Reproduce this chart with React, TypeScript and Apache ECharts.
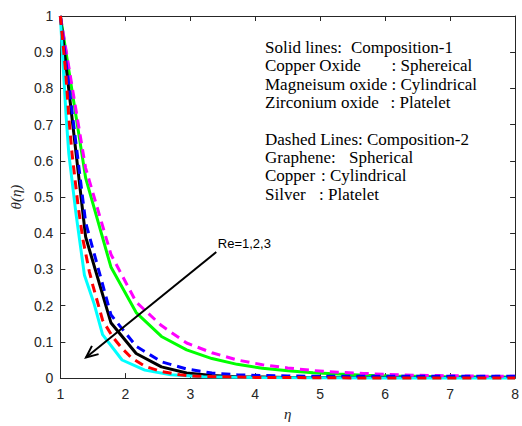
import React, { useEffect, useRef } from "react";
import * as echarts from "echarts";

// eta grid used by the coarse solutions
const eta = [1, 1.389, 1.778, 2.167, 2.556, 2.944, 3.333, 3.722, 4.111, 4.5, 4.889, 5.278, 5.667, 6.056, 6.444, 6.833, 7.222, 7.611, 8];
// Composition-1 (solid)
const greenSolid = [1, 0.553, 0.307, 0.181, 0.115, 0.078, 0.054, 0.038, 0.027, 0.02, 0.015, 0.011, 0.008, 0.006, 0.005, 0.004, 0.004, 0.003, 0.003];
const blackSolid = [1, 0.39, 0.153, 0.068, 0.031, 0.014, 0.007, 0.004, 0.003, 0.002, 0.002, 0.002, 0.002, 0.002, 0.002, 0.002, 0.002, 0.002, 0.002];
const cyanEta = [1, 1.05, 1.09, 1.13, 1.24, 1.37, 1.52, 1.65, 1.95, 2.3, 2.7, 3.2, 4, 5, 6, 7, 8];
const cyanSolid = [1, 0.84, 0.72, 0.62, 0.455, 0.285, 0.205, 0.12, 0.05, 0.022, 0.009, 0.004, 0.002, 0.001, 0, 0, 0];
// Composition-2 (dashed)
const magentaDashed = [1, 0.58, 0.342, 0.21, 0.145, 0.097, 0.07, 0.05, 0.037, 0.028, 0.021, 0.016, 0.013, 0.01, 0.008, 0.007, 0.006, 0.005, 0.005];
const blueDashed = [1, 0.43, 0.175, 0.088, 0.045, 0.025, 0.014, 0.009, 0.007, 0.006, 0.005, 0.005, 0.005, 0.005, 0.005, 0.005, 0.005, 0.005, 0.005];
const redEta = [1, 1.08, 1.13, 1.18, 1.27, 1.345, 1.445, 1.5, 1.65, 1.8, 1.95, 2.1, 2.31, 2.56, 2.84, 3.1, 4, 5, 6, 7, 8];
const redDashed = [1, 0.85, 0.72, 0.62, 0.48, 0.385, 0.295, 0.256, 0.16, 0.115, 0.082, 0.055, 0.032, 0.018, 0.009, 0.005, 0.002, 0.001, 0, 0, 0];

const xTicks = { min: 1, max: 8, interval: 1 };
const yTicks = { min: 0, max: 1, interval: 0.1 };

// annotation arrow (data coordinates)
const arrowFrom = [3.4, 0.348];
const arrowTo = [1.395, 0.057];

const legendLines: { y: number; parts: { x: number; t: string }[] }[] = [
  { y: 0, parts: [{ x: 265, t: "Solid lines:" }, { x: 351, t: "Composition-1" }] },
  { y: 1, parts: [{ x: 265, t: "Copper Oxide" }, { x: 391.5, t: ": Sphereical" }] },
  { y: 2, parts: [{ x: 265, t: "Magneisum oxide : Cylindrical" }] },
  { y: 3, parts: [{ x: 265, t: "Zirconium oxide" }, { x: 390.5, t: ": Platelet" }] },
  { y: 5, parts: [{ x: 265, t: "Dashed Lines: Composition-2" }] },
  { y: 6, parts: [{ x: 265, t: "Graphene:" }, { x: 349, t: "Spherical" }] },
  { y: 7, parts: [{ x: 265, t: "Copper" }, { x: 321, t: ": Cylindrical" }] },
  { y: 8, parts: [{ x: 265, t: "Silver" }, { x: 319, t: ": Platelet" }] },
];

const pair = (xs: number[], ys: number[]) => xs.map((x, i) => [x, ys[i]]);

export default function App() {
  const ref = useRef<HTMLDivElement>(null);
  useEffect(() => {
    if (!ref.current) return;
    const chart = echarts.init(ref.current, undefined, { renderer: "svg" });
    const axisColor = "#262626";
    const labelFont = { fontFamily: "Liberation Sans", fontSize: 14, color: axisColor };
    const mkX = (pos: "bottom" | "top") => ({
      type: "value" as const,
      position: pos,
      ...xTicks,
      axisLine: { show: true, onZero: false, lineStyle: { color: axisColor, width: 1 } },
      axisTick: { show: true, inside: true, length: 5, lineStyle: { color: axisColor } },
      axisLabel: pos === "bottom" ? { ...labelFont, margin: 9 } : { show: false },
      splitLine: { show: false },
      name: pos === "bottom" ? "η" : "",
      nameLocation: "middle" as const,
      nameGap: 27,
      nameTextStyle: { fontFamily: "Liberation Serif", fontStyle: "italic", fontSize: 15, color: axisColor },
    });
    const mkY = (pos: "left" | "right") => ({
      type: "value" as const,
      position: pos,
      ...yTicks,
      axisLine: { show: true, onZero: false, lineStyle: { color: axisColor, width: 1 } },
      axisTick: { show: true, inside: true, length: 5, lineStyle: { color: axisColor } },
      axisLabel: pos === "left" ? { ...labelFont, margin: 7 } : { show: false },
      splitLine: { show: false },
      name: pos === "left" ? "θ(η)" : "",
      nameLocation: "middle" as const,
      nameGap: 28,
      nameRotate: 90,
      nameTextStyle: { fontFamily: "Liberation Serif", fontStyle: "italic", fontSize: 15, color: axisColor },
    });
    const line = (data: number[][], color: string, dashed: boolean, z: number) => ({
      type: "line" as const,
      data,
      showSymbol: false,
      symbol: "none",
      clip: false,
      z,
      lineStyle: { color, width: 3, type: dashed ? [9, 6] : "solid", cap: "butt" as const },
      silent: true,
    });
    chart.setOption({
      animation: false,
      backgroundColor: "#ffffff",
      grid: { left: 59, right: 2.5, top: 16, bottom: 46 },
      xAxis: [mkX("bottom"), mkX("top")],
      yAxis: [mkY("left"), mkY("right")],
      series: [
        line(pair(eta, greenSolid), "#00ff00", false, 2),
        line(pair(eta, blackSolid), "#000000", false, 3),
        line(pair(cyanEta, cyanSolid), "#00ffff", false, 4),
        line(pair(eta, magentaDashed), "#ff00ff", true, 5),
        line(pair(eta, blueDashed), "#0000ff", true, 6),
        line(pair(redEta, redDashed), "#ff0000", true, 7),
      ],
    });

    const p0 = chart.convertToPixel({ xAxisIndex: 0, yAxisIndex: 0 }, arrowFrom) as number[];
    const p1 = chart.convertToPixel({ xAxisIndex: 0, yAxisIndex: 0 }, arrowTo) as number[];
    const dx = p0[0] - p1[0];
    const dy = p0[1] - p1[1];
    const len = Math.hypot(dx, dy);
    const ux = dx / len, uy = dy / len;
    const headLen = 13, ang = (24 * Math.PI) / 180;
    const rot = (a: number) => [
      p1[0] + headLen * (ux * Math.cos(a) - uy * Math.sin(a)),
      p1[1] + headLen * (ux * Math.sin(a) + uy * Math.cos(a)),
    ];
    const lineH = 18.35;
    const texts: any[] = [];
    legendLines.forEach((ln) =>
      ln.parts.forEach((p) =>
        texts.push({
          type: "text",
          x: p.x,
          y: 47.5 + ln.y * lineH,
          style: {
            text: p.t,
            fontFamily: "Liberation Serif",
            fontSize: 17,
            fill: "#000000",
            verticalAlign: "middle",
            align: "left",
          },
          z: 100,
        })
      )
    );
    chart.setOption({
      graphic: [
        {
          type: "line",
          shape: { x1: p0[0], y1: p0[1], x2: p1[0], y2: p1[1] },
          style: { stroke: "#000000", lineWidth: 2 },
          z: 90,
        },
        {
          type: "polyline",
          shape: { points: [rot(ang), p1, rot(-ang)] },
          style: { stroke: "#000000", lineWidth: 2, fill: null },
          z: 90,
        },
        {
          type: "text",
          x: p0[0] + 1.5,
          y: p0[1] - 8.5,
          style: {
            text: "Re=1,2,3",
            fontFamily: "Liberation Sans",
            fontSize: 13,
            fill: "#000000",
            verticalAlign: "middle",
            align: "left",
          },
          z: 100,
        },
        ...texts,
      ],
    });
    return () => chart.dispose();
  }, []);
  return <div ref={ref} style={{ position: "fixed", left: 0, top: 0, width: 522, height: 426 }} />;
}
